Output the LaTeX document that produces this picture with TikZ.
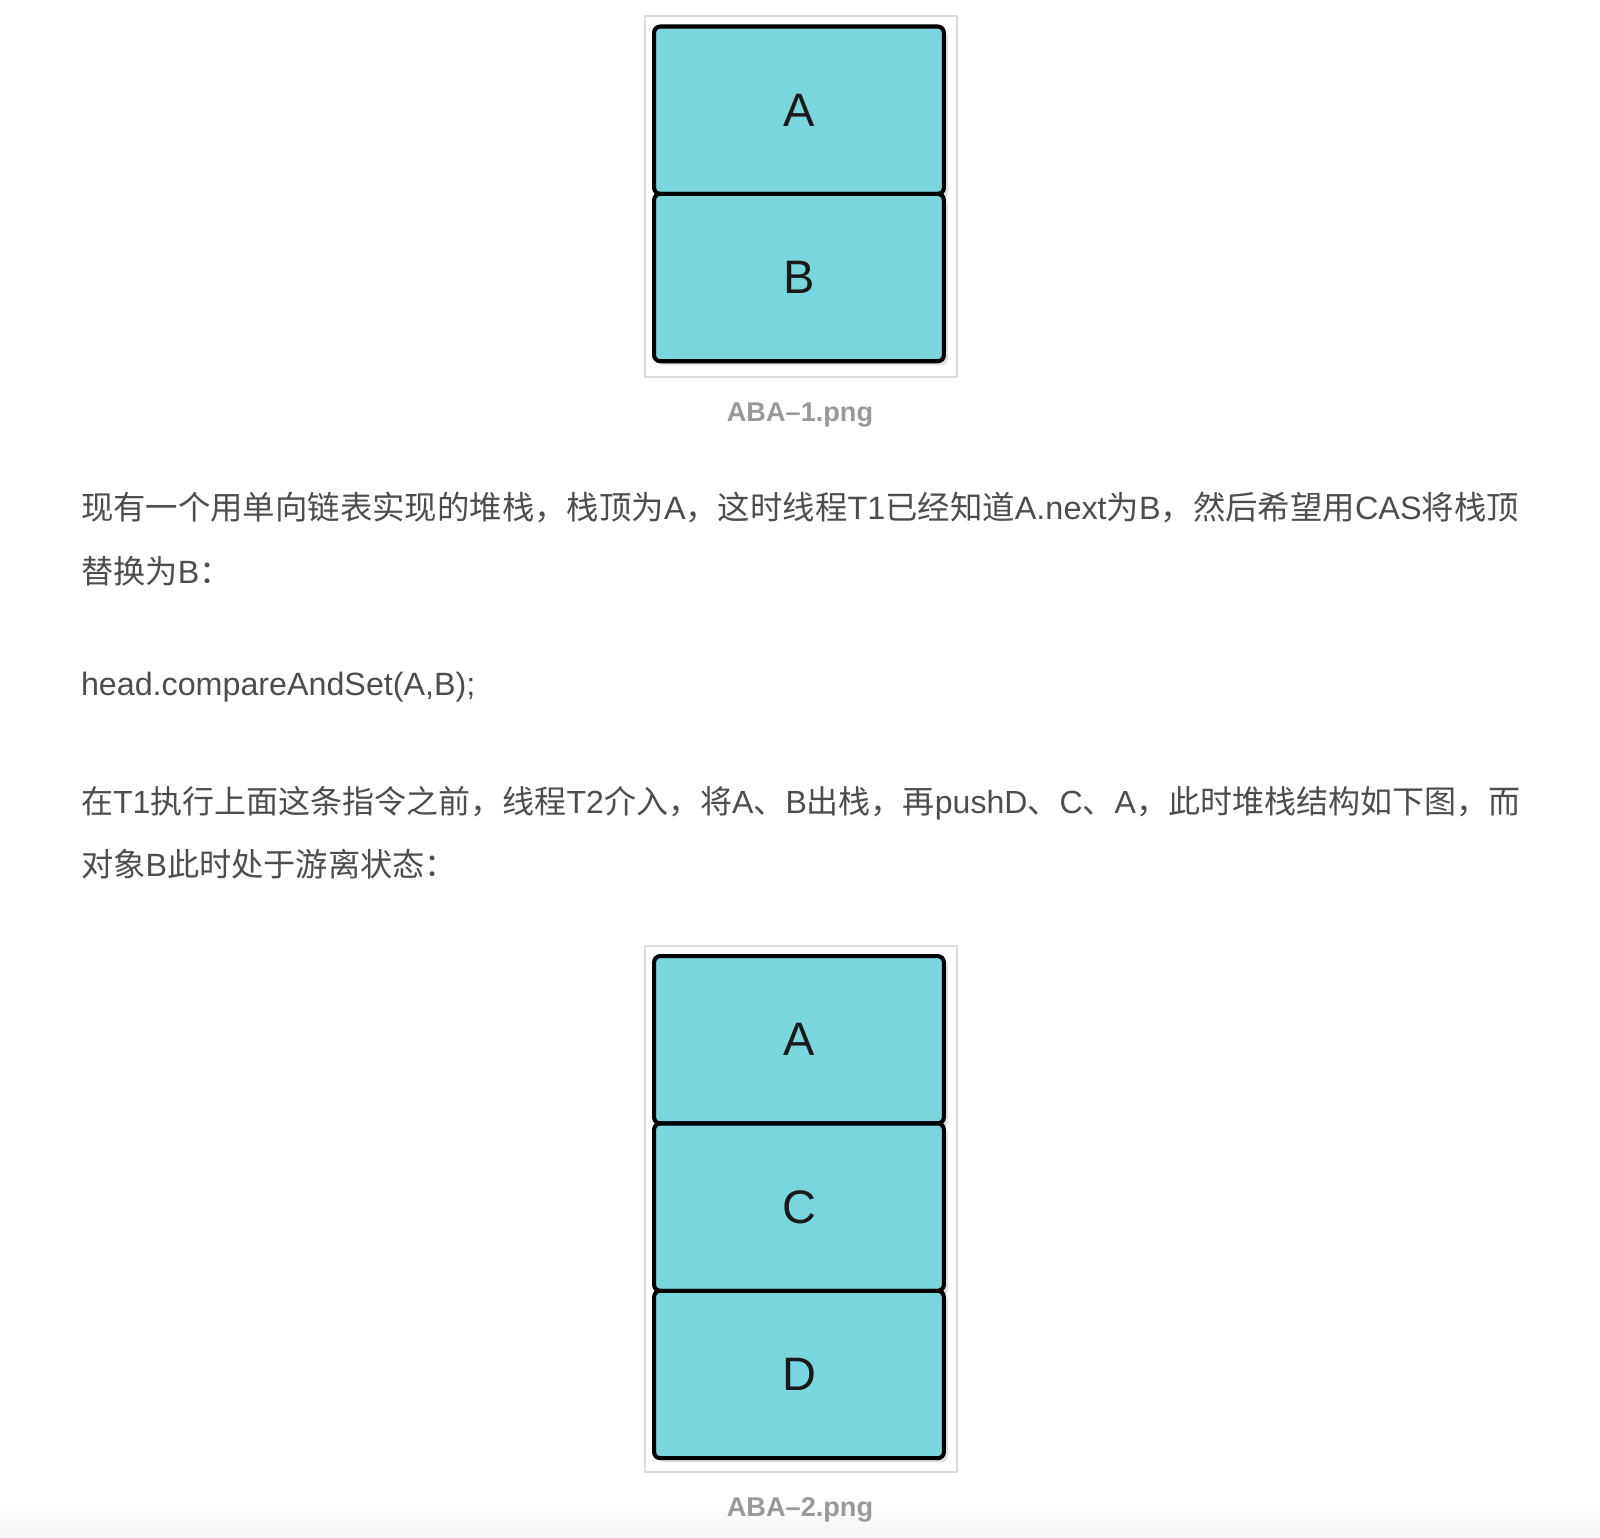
\documentclass[tikz,border=0pt]{standalone}
\usepackage{fontspec}
\setmainfont{Liberation Sans}
\newfontfamily\cjkfont{Noto Sans CJK SC}
\usetikzlibrary{positioning,shadows}

\definecolor{cellcyan}{HTML}{79D5DE}
\definecolor{bodygray}{HTML}{4D4D4D}
\definecolor{capgray}{HTML}{999999}
\definecolor{framegray}{HTML}{DDDDDD}
\newcommand{\cn}[1]{{\cjkfont #1}}

\tikzset{
	cell/.style={draw = black, line width = 2pt, fill = cellcyan,
				 rounded corners = 3pt, outer sep = 0pt, inner sep = 0pt,
				 minimum width = 142pt, minimum height = 82pt,
				 font = \fontsize{23}{23}\selectfont, text = black!90,
				 drop shadow = {shadow xshift = 2pt, shadow yshift = -2pt,
								fill = black!12, opacity = 1}},
	framebox/.style={draw = framegray, line width = 1pt},
	bodyline/.style={anchor = base west, inner sep = 0pt, text = bodygray,
					 font = \fontsize{15.8}{15.8}\selectfont},
	figcaption/.style={anchor = base, inner sep = 0pt, text = capgray,
					   font = \fontsize{13.3}{13.3}\selectfont\bfseries}
}

\begin{document}
\begin{tikzpicture}[x = 0.5pt, y = -0.5pt]

	\useasboundingbox (0,0) rectangle (1568,1507);
	\shade[top color = white, bottom color = black!4] (0,1470) rectangle (1568,1507);

	% ABA-1
	\draw[framebox] (632,16) rectangle (938,369);
	\node[cell, anchor = north] (A1) at (783,26) {A};
	\node[cell, below = 0pt of A1] (B1) {B};
	\node[figcaption] (cap1) at (784,413) {ABA–1.png};

	% text (full lines sized to the right margin)
	\node[bodyline, font = \fontsize{15.87}{15.87}\selectfont] (line1) at (79,509)
		{\cn{现有一个用单向链表实现的堆栈，栈顶为}A\cn{，这时线程}T1\cn{已经知道}A.next\cn{为}B\cn{，然后希望用}CAS\cn{将栈顶}};
	\node[bodyline] (line2) at (79,572) {\cn{替换为}B\cn{：}};
	\node[bodyline] (line3) at (79,682) {head.compareAndSet(A,B);};
	\node[bodyline, font = \fontsize{15.69}{15.69}\selectfont] (line4) at (79,797)
		{\cn{在}T1\cn{执行上面这条指令之前，线程}T2\cn{介入，将}A\cn{、}B\cn{出栈，再}pushD\cn{、}C\cn{、}A\cn{，此时堆栈结构如下图，而}};
	\node[bodyline] (line5) at (79,859) {\cn{对象}B\cn{此时处于游离状态：}};

	% ABA-2
	\draw[framebox] (632,927) rectangle (938,1443);
	\node[cell, anchor = north] (A2) at (783,937) {A};
	\node[cell, below = 0pt of A2] (C2) {C};
	\node[cell, below = 0pt of C2] (D2) {D};
	\node[figcaption] (cap2) at (784,1486) {ABA–2.png};

\end{tikzpicture}
\end{document}
